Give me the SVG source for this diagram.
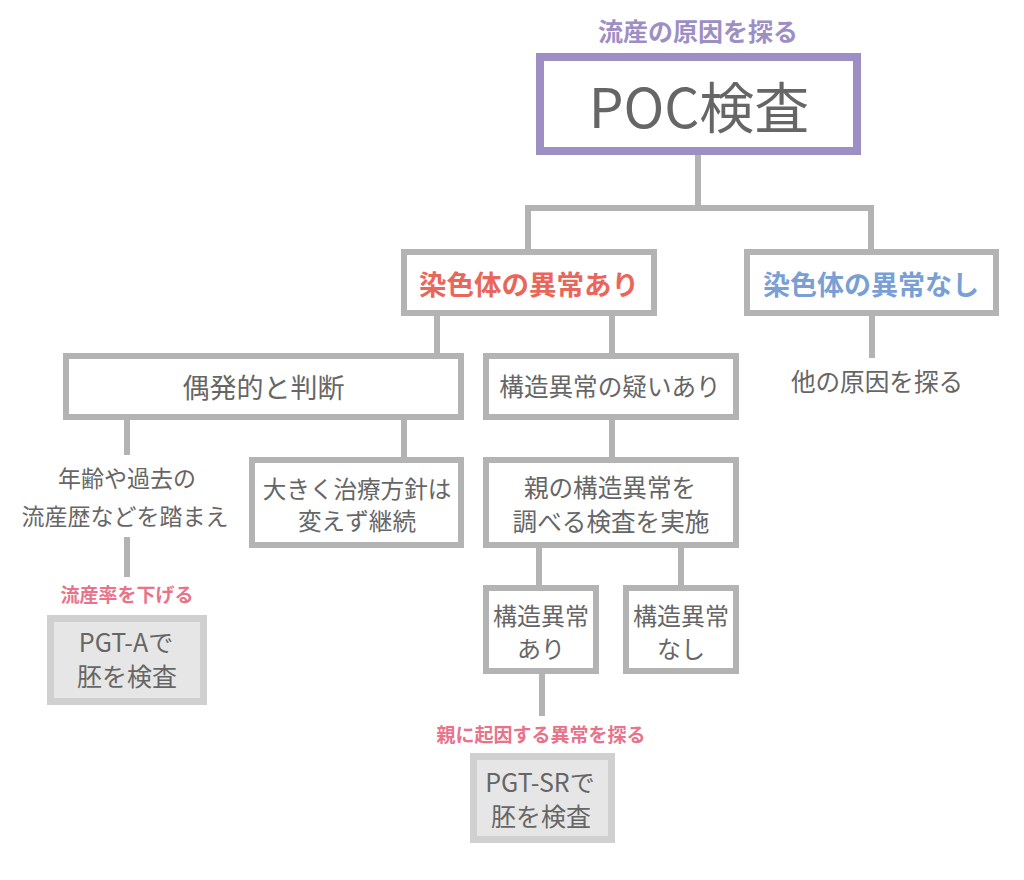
<svg xmlns="http://www.w3.org/2000/svg" width="1024" height="880" viewBox="0 0 1024 880">
<style>
text{font-family:"Noto Sans CJK JP","Noto Sans",sans-serif;text-anchor:middle;fill:#666;}
.box{fill:#fff;stroke:#b3b3b3;stroke-width:6;}
.pgt{fill:#e6e6e6;stroke:#d0d0d0;stroke-width:7;}
.t{font-size:24.6px;}
.s{font-size:24px;}
.p{font-size:25px;}
.note{font-size:19px;font-weight:700;fill:#e8738a;}
.conn{fill:none;stroke:#b3b3b3;stroke-width:6;}
</style>
<rect width="1024" height="880" fill="#fff"/>
<g id="connectors" class="conn">
<path d="M698 155V208M528 252V208H871V252"/>
<path d="M437 316V356M612 316V356M872 316V358"/>
<path d="M127 420V455M404 420V460M612 420V460"/>
<path d="M127 537V577"/>
<path d="M539 548V588M681 548V588"/>
<path d="M542 674V716"/>
</g>
<g id="root">
<text x="698" y="41" style="font-size:25px;font-weight:700;fill:#9d8fc4">流産の原因を探る</text>
<rect x="540" y="57" width="317" height="94" fill="#fff" stroke="#9d8fc4" stroke-width="8"/>
<text x="699" y="128" style="font-size:55px">POC検査</text>
</g>
<g id="abnormal">
<rect class="box" x="404" y="252" width="250" height="61"/>
<text x="529" y="295" style="font-size:27.5px;font-weight:700;fill:#e8675a">染色体の異常あり</text>
</g>
<g id="normal">
<rect class="box" x="747" y="252" width="249" height="61"/>
<text x="871" y="295" style="font-size:27px;font-weight:700;fill:#7a9fd6">染色体の異常なし</text>
</g>
<g id="accidental">
<rect class="box" x="66" y="356" width="395" height="61"/>
<text x="263.5" y="398" style="font-size:27px">偶発的と判断</text>
</g>
<g id="suspect">
<rect class="box" x="486" y="356" width="250" height="61"/>
<text class="t" x="610" y="396">構造異常の疑いあり</text>
</g>
<g id="other">
<text class="t" x="877" y="391">他の原因を探る</text>
</g>
<g id="history">
<text x="127" y="487" style="font-size:23px">年齢や過去の</text>
<text x="125" y="525" style="font-size:23px">流産歴などを踏まえ</text>
</g>
<g id="continue">
<rect class="box" x="252" y="460" width="209" height="85"/>
<text x="357" y="498" style="font-size:23.6px">大きく治療方針は</text>
<text x="357" y="529.5" style="font-size:23.6px">変えず継続</text>
</g>
<g id="parent-test">
<rect class="box" x="486" y="460" width="250" height="85"/>
<text class="t" x="610" y="497">親の構造異常を</text>
<text class="t" x="611" y="531">調べる検査を実施</text>
</g>
<g id="struct-yes">
<rect class="box" x="486" y="588" width="110" height="83"/>
<text class="s" x="541" y="625">構造異常</text>
<text class="s" x="541" y="657.5">あり</text>
</g>
<g id="struct-no">
<rect class="box" x="626" y="588" width="110" height="83"/>
<text class="s" x="681" y="625">構造異常</text>
<text class="s" x="681" y="657.5">なし</text>
</g>
<g id="pgt-a">
<text class="note" x="127" y="602">流産率を下げる</text>
<rect class="pgt" x="50.5" y="618.5" width="153" height="83"/>
<text class="p" x="126" y="652">PGT-Aで</text>
<text class="p" x="127" y="685.5">胚を検査</text>
</g>
<g id="pgt-sr">
<text class="note" x="541" y="742">親に起因する異常を探る</text>
<rect class="pgt" x="473.5" y="756.5" width="138" height="83"/>
<text class="p" x="540" y="792">PGT-SRで</text>
<text class="p" x="541" y="826">胚を検査</text>
</g>
</svg>
